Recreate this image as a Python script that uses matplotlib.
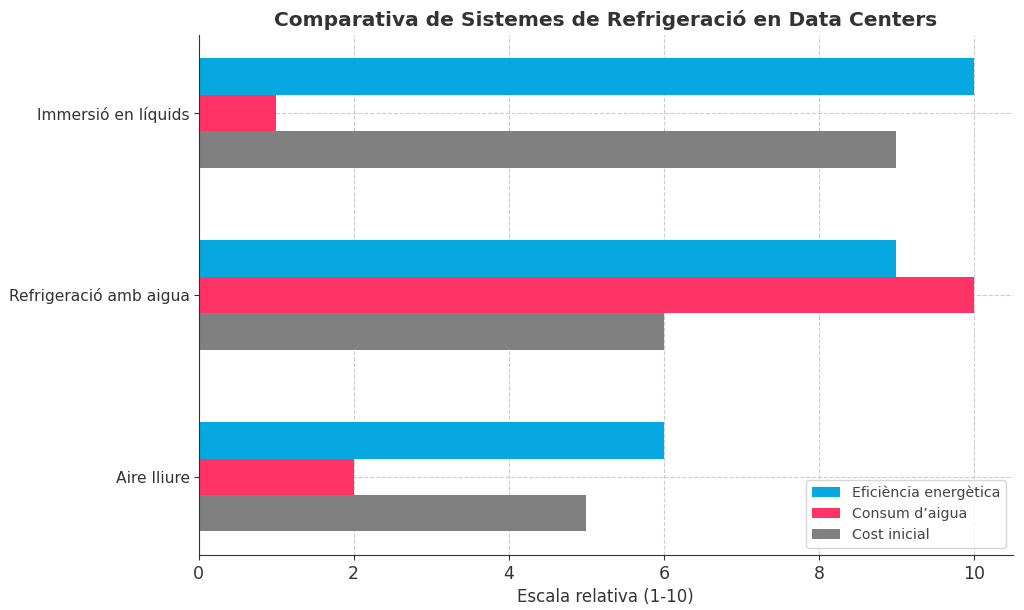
import matplotlib
matplotlib.use("Agg")
import matplotlib.pyplot as plt
import numpy as np

categories = ["Aire lliure", "Refrigeració amb aigua", "Immersió en líquids"]
eficiencia = [6, 9, 10]
consum = [2, 10, 1]
cost = [5, 6, 9]
series_names = ["Eficiència energètica", "Consum d’aigua", "Cost inicial"]
colors = ["#05A8E0", "#FF3366", "#808080"]

fig = plt.figure(figsize=(10.24, 6.1), dpi=100)
ax = fig.add_axes([0.194, 0.090, 0.795, 0.853])

y = np.arange(len(categories))
h = 0.2
for vals, off, name, c in zip([eficiencia, consum, cost], [h, 0, -h], series_names, colors):
    ax.barh(y + off, vals, height=h, color=c, label=name, zorder=2)

ax.set_yticks(y)
ax.set_yticklabels(categories, fontsize=11.2, color="#333333")
ax.set_xticks([0, 2, 4, 6, 8, 10])
ax.tick_params(axis="x", labelsize=12.5, colors="#333333")
ax.tick_params(axis="y", colors="#333333", pad=3)
ax.set_xlim(0, 10.5)
ax.grid(True, linestyle="--", color="#cccccc", linewidth=0.8, zorder=0)
ax.set_axisbelow(True)
for s in ["top", "right"]:
    ax.spines[s].set_visible(False)
for s in ["left", "bottom"]:
    ax.spines[s].set_color("#333333")
ax.set_xlabel("Escala relativa (1-10)", fontsize=12, color="#333333")
ax.set_title("Comparativa de Sistemes de Refrigeració en Data Centers",
             fontsize=14.5, fontweight="bold", color="#333333")
leg = ax.legend(loc="lower right", fontsize=10.2, labelcolor="#444444")
fig.savefig("out.png", dpi=100)
